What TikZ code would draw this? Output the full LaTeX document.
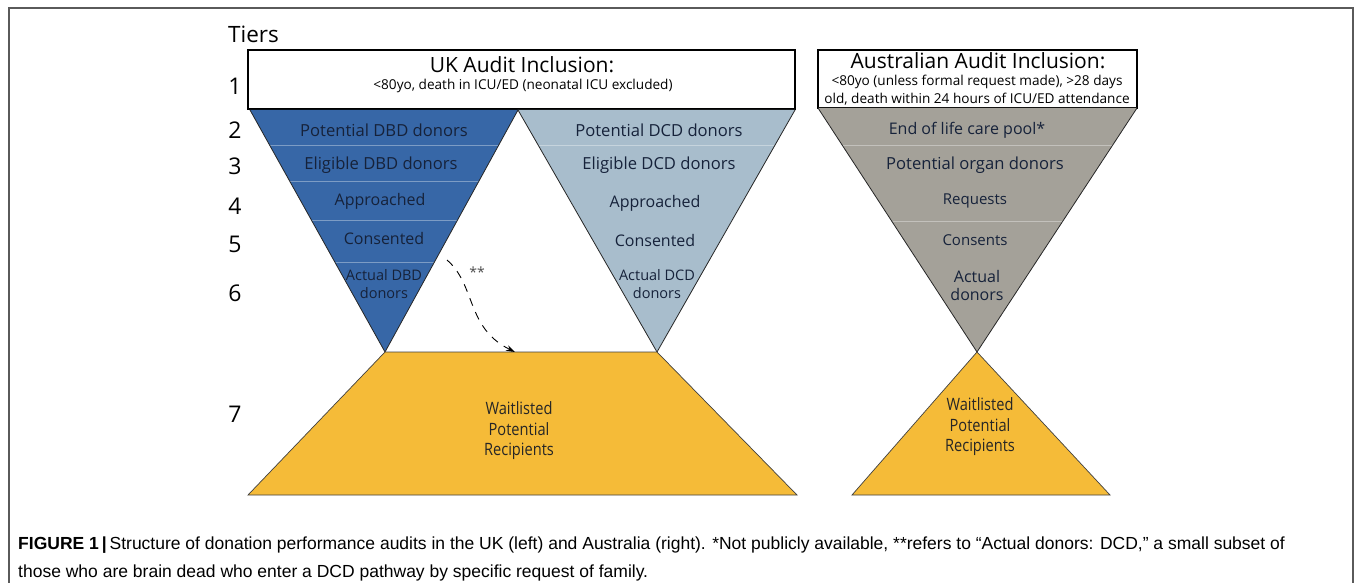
\documentclass[tikz,border=0pt]{standalone}
\usepackage{fontspec}
\setmainfont{Open Sans}
\newfontfamily\narrowfont[FakeStretch=0.86]{Open Sans}
\newfontfamily\capfont{Liberation Sans}
\usetikzlibrary{positioning}
\usetikzlibrary{arrows.meta}
\definecolor{dbdblue}{RGB}{55,103,167}
\definecolor{dcdgrey}{RGB}{168,189,204}
\definecolor{ausgrey}{RGB}{164,161,153}
\definecolor{waitgold}{RGB}{245,187,56}
\definecolor{inknavy}{RGB}{22,34,58}
\definecolor{framegrey}{RGB}{90,90,90}
\tikzset{
    funnel/.style = {draw=black!85, line width=0.8pt},
    band/.style = {draw=white, opacity=0.35, line width=0.8pt},
    headbox/.style = {draw=black, line width=1.1pt, fill=white},
    tier/.style = {font=\fontsize{23}{25}\selectfont, anchor=center},
    level/.style = {font=\fontsize{16}{18}\selectfont, text=inknavy, align=center},
    toplevel/.style = {level, font=\fontsize{16.6}{18}\selectfont},
    waitlab/.style = {font=\narrowfont\fontsize{17}{20.5}\selectfont, text=black!85, align=center},
    headtitle/.style = {font=\fontsize{21}{23}\selectfont},
    headsub/.style = {font=\fontsize{13.6}{18}\selectfont, align=center},
    linkarrow/.style = {-{Stealth[length=9pt,width=6pt]}, dashed, line width=0.9pt, dash pattern=on 8pt off 7pt}
}
\begin{document}
\begin{tikzpicture}[x=1pt,y=-1pt]
\useasboundingbox (0,0) rectangle (1355,583);
\fill[white] (0,0) rectangle (1355,583);
% outer frame
\draw[framegrey, line width=1.3pt] (9,583) -- (9,8) -- (1353,8) -- (1353,583);
%
\node[font=\fontsize{22.5}{25}\selectfont, anchor=west, inner sep=0pt] (tiers) at (228,34) {Tiers};
\foreach \t/\y in {1/86, 2/130, 3/166, 4/206, 5/244, 6/293, 7/414}
    \node[tier] (tier\t) at (235,\y) {\t};
%
% header boxes
\draw[headbox] (248,50) rectangle (795,109);
\draw[headbox] (818,50) rectangle (1137,108);
\node[headtitle] (ukhead) at (522,65) {UK Audit Inclusion:};
\node[headsub] (uksub) at (523,86) {<80yo, death in ICU/ED (neonatal ICU excluded)};
\node[headtitle] (aushead) at (978,61) {Australian Audit Inclusion:};
\node[headsub] (aussub) at (977,90) {<80yo (unless formal request made), >28 days\\old, death within 24 hours of ICU/ED attendance};
%
% funnels
\coordinate (dbdL) at (250,110);
\coordinate (dbdR) at (518,110);
\coordinate (dbdTip) at (385,352);
\coordinate (dcdR) at (795,110);
\coordinate (dcdTip) at (657,352);
\coordinate (ausL) at (818,108);
\coordinate (ausR) at (1137,108);
\coordinate (ausTip) at (977,352);
\fill[dbdblue] (dbdL) -- (dbdR) -- (dbdTip) -- cycle;
\fill[dcdgrey] (dbdR) -- (dcdR) -- (dcdTip) -- cycle;
\fill[ausgrey] (ausL) -- (ausR) -- (ausTip) -- cycle;
\begin{scope}
    \clip (dbdL) -- (dbdR) -- (dbdTip) -- cycle;
    \foreach \y in {145, 181, 220, 262}
        \draw[band] (240,\y) -- (530,\y);
\end{scope}
\begin{scope}
    \clip (dbdR) -- (dcdR) -- (dcdTip) -- cycle;
    \foreach \y in {145}
        \draw[band] (510,\y) -- (800,\y);
\end{scope}
\begin{scope}
    \clip (ausL) -- (ausR) -- (ausTip) -- cycle;
    \foreach \y in {145, 221}
        \draw[band] (810,\y) -- (1140,\y);
\end{scope}
\draw[funnel] (dbdL) -- (dbdTip) -- (dbdR) -- (dcdTip) -- (dcdR);
\draw[funnel] (ausL) -- (ausTip) -- (ausR);
%
% waitlist
\coordinate (ukWL) at (248,495);
\coordinate (ukWR) at (797,495);
\coordinate (ausWL) at (852,495);
\coordinate (ausWR) at (1110,495);
\filldraw[fill=waitgold, draw=black!75, line width=0.7pt] (dbdTip) -- (dcdTip) -- (ukWR) -- (ukWL) -- cycle;
\filldraw[fill=waitgold, draw=black!75, line width=0.7pt] (ausTip) -- (ausWR) -- (ausWL) -- cycle;
\node[waitlab] (ukwait) at (519,431) {Waitlisted\\Potential\\Recipients};
\node[waitlab] (auswait) at (980,427) {Waitlisted\\Potential\\Recipients};
%
% level labels
\node[toplevel] (dbd2) at (384,130) {Potential DBD donors};
\node[toplevel] (dbd3) at (381,165) {Eligible DBD donors};
\node[level] (dbd4) at (380,201) {Approached};
\node[level] (dbd5) at (384,238) {Consented};
\node[level, font=\fontsize{14.5}{18.5}\selectfont] (dbd6) at (384,284) {Actual DBD\\donors};
\node[toplevel] (dcd2) at (659,130) {Potential DCD donors};
\node[toplevel] (dcd3) at (659,165) {Eligible DCD donors};
\node[level] (dcd4) at (655,203) {Approached};
\node[level] (dcd5) at (655,240) {Consented};
\node[level, font=\fontsize{14.5}{18.5}\selectfont] (dcd6) at (657,284) {Actual DCD\\donors};
\node[level] (aus2) at (967,130) {End of life care pool*};
\node[toplevel] (aus3) at (975,165) {Potential organ donors};
\node[level, font=\fontsize{15}{18}\selectfont] (aus4) at (975,201) {Requests};
\node[level, font=\fontsize{15}{18}\selectfont] (aus5) at (975,240) {Consents};
\node[level] (aus6) at (977,285) {Actual\\donors};
%
% DBD to DCD link
\coordinate (linkStart) at (447,260);
\coordinate (linkEnd) at (515,352);
\draw[linkarrow] (linkStart) .. controls (476,285) and (466,328) .. (linkEnd);
\node[font=\fontsize{14}{15}\selectfont, text=black!70] (linkmark) at (477,272) {**};
%
% caption
\node[anchor=base west, align=left, font=\capfont\fontsize{17.5}{28}\selectfont, inner sep=0pt] (caption) at (18,577)
    {\textbf{FIGURE 1\,|}\,Structure of donation performance audits in the UK (left) and Australia (right). *Not publicly available, **refers to “Actual donors: DCD,” a small subset of\\
    those who are brain dead who enter a DCD pathway by specific request of family.};
\end{tikzpicture}
\end{document}
